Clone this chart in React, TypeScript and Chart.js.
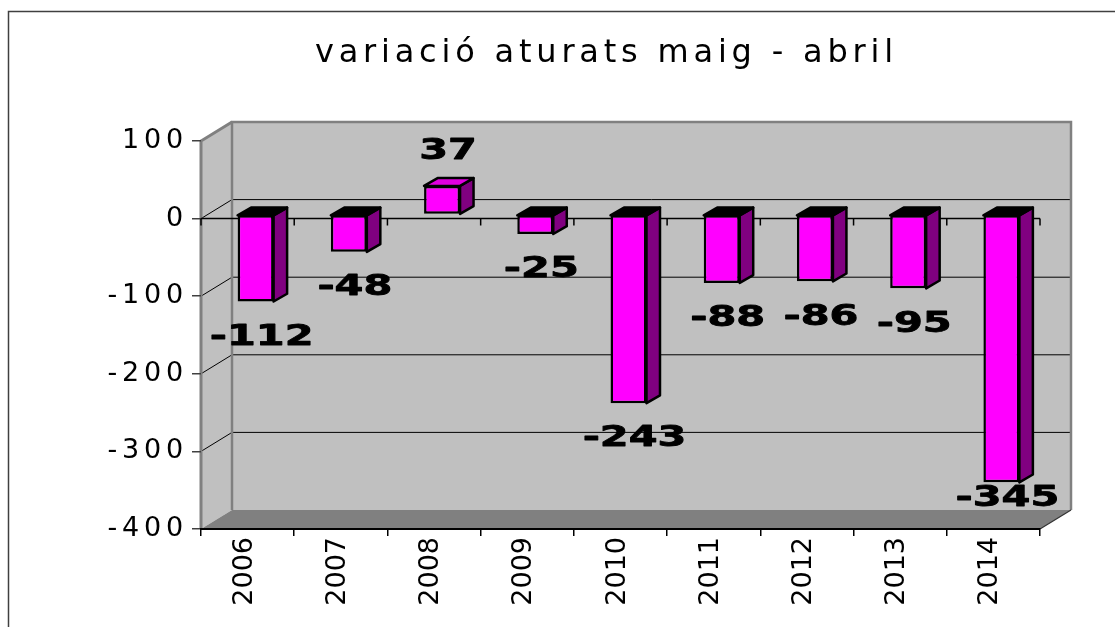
import React, { useEffect, useRef } from 'react';
import { Chart, registerables } from 'chart.js';

Chart.register(...registerables);

const TITLE = 'variació aturats maig - abril';
const YEARS = ['2006', '2007', '2008', '2009', '2010', '2011', '2012', '2013', '2014'];
const VALUES = [-112, -48, 37, -25, -243, -88, -86, -95, -345];
const Y_MIN = -400;
const Y_MAX = 100;
const Y_STEP = 100;

const FONT = 'DejaVu Sans';
const WALL_DX = 31;
const WALL_DY = 19;
const BAR_SHIFT_X = 8;
const BAR_SHIFT_Y = 4;
const BAR_DX = 13.5;
const BAR_DY = 7.8;
const LABEL_DX = 14;
const LABEL_STRETCH = 1.48;
const TITLE_CENTER_X = 606.4;

function boundary(xs: any, a: any, i: number, n: number) {
  if (i === 0) return a.left;
  if (i === n) return a.right;
  return (xs.getPixelForValue(i - 1) + xs.getPixelForValue(i)) / 2;
}

const threeD = {
  id: 'threeD',
  afterLayout(chart: any) {
    const tb = chart.titleBlock;
    if (tb) {
      const shift = TITLE_CENTER_X - (tb.left + tb.right) / 2;
      tb.left += shift;
      tb.right += shift;
    }
  },
  beforeDraw(chart: any) {
    const { ctx, chartArea: a, scales } = chart;
    const ys = scales.y;
    ctx.save();
    // outer frame
    ctx.strokeStyle = '#404040';
    ctx.lineWidth = 1.5;
    ctx.beginPath();
    ctx.moveTo(8.5, chart.height + 5);
    ctx.lineTo(8.5, 11.5);
    ctx.lineTo(chart.width + 5, 11.5);
    ctx.stroke();

    const L = a.left, R = a.right, T = a.top, B = a.bottom;
    const bl = L + WALL_DX, br = R + WALL_DX, bt = T - WALL_DY, bb = B - WALL_DY;
    // back wall
    ctx.fillStyle = '#c0c0c0';
    ctx.fillRect(bl, bt, br - bl, bb - bt);
    // side wall
    ctx.beginPath();
    ctx.moveTo(L, T); ctx.lineTo(bl, bt); ctx.lineTo(bl, bb); ctx.lineTo(L, B);
    ctx.closePath();
    ctx.fill();
    // floor
    ctx.fillStyle = '#808080';
    ctx.beginPath();
    ctx.moveTo(L, B); ctx.lineTo(bl, bb); ctx.lineTo(br, bb); ctx.lineTo(R, B);
    ctx.closePath();
    ctx.fill();
    // gridlines on walls
    ctx.strokeStyle = '#000';
    ctx.lineWidth = 1;
    for (let v = Y_MIN + Y_STEP; v < Y_MAX; v += Y_STEP) {
      const py = ys.getPixelForValue(v);
      ctx.beginPath();
      ctx.moveTo(L, py);
      ctx.lineTo(bl, py - WALL_DY);
      ctx.lineTo(br, py - WALL_DY);
      ctx.stroke();
    }
    // wall outlines
    ctx.strokeStyle = '#808080';
    ctx.lineWidth = 2.5;
    ctx.beginPath();
    ctx.moveTo(bl, bb); ctx.lineTo(bl, bt); ctx.lineTo(br, bt); ctx.lineTo(br, bb);
    ctx.stroke();
    ctx.lineWidth = 3;
    ctx.beginPath();
    ctx.moveTo(L, B); ctx.lineTo(L, T); ctx.lineTo(bl, bt);
    ctx.stroke();
    ctx.strokeStyle = '#333';
    ctx.lineWidth = 1.2;
    ctx.beginPath();
    ctx.moveTo(R, B); ctx.lineTo(br, bb);
    ctx.stroke();
    ctx.restore();
    ctx.letterSpacing = '4.8px';
  },
  beforeDatasetsDraw(chart: any) {
    const { ctx, chartArea: a, scales } = chart;
    const xs = scales.x, ys = scales.y;
    const y0 = ys.getPixelForValue(0);
    const n = YEARS.length;
    ctx.save();
    ctx.strokeStyle = '#000';
    ctx.lineWidth = 1.5;
    ctx.beginPath();
    ctx.moveTo(a.left, y0);
    ctx.lineTo(a.right, y0);
    for (let i = 0; i <= n; i++) {
      const bx = boundary(xs, a, i, n);
      ctx.moveTo(bx, y0);
      ctx.lineTo(bx, y0 + 7);
    }
    ctx.stroke();
    ctx.restore();

    ctx.save();
    ctx.translate(BAR_SHIFT_X, -BAR_SHIFT_Y);
    const meta = chart.getDatasetMeta(0);
    meta.data.forEach((bar: any, i: number) => {
      const { x, y, base, width } = bar.getProps(['x', 'y', 'base', 'width'], true);
      const left = x - width / 2, right = x + width / 2;
      const top = Math.min(y, base), bottom = Math.max(y, base);
      ctx.lineWidth = 2.5;
      ctx.strokeStyle = '#000';
      ctx.lineJoin = 'round';
      ctx.fillStyle = '#800080';
      ctx.beginPath();
      ctx.moveTo(right, top);
      ctx.lineTo(right + BAR_DX, top - BAR_DY);
      ctx.lineTo(right + BAR_DX, bottom - BAR_DY);
      ctx.lineTo(right, bottom);
      ctx.closePath();
      ctx.fill();
      ctx.stroke();
      ctx.fillStyle = VALUES[i] >= 0 ? '#e000e0' : '#000';
      ctx.beginPath();
      ctx.moveTo(left, top);
      ctx.lineTo(right, top);
      ctx.lineTo(right + BAR_DX, top - BAR_DY);
      ctx.lineTo(left + BAR_DX, top - BAR_DY);
      ctx.closePath();
      ctx.fill();
      ctx.stroke();
    });
  },
  afterDatasetsDraw(chart: any) {
    const { ctx, scales, chartArea: a } = chart;
    ctx.restore();
    const ys = scales.y;
    const meta = chart.getDatasetMeta(0);
    const floorLimit = a.bottom - WALL_DY - 11;
    ctx.save();
    ctx.letterSpacing = '0px';
    ctx.font = `bold 28px "${FONT}"`;
    ctx.fillStyle = '#000';
    ctx.strokeStyle = '#000';
    ctx.lineWidth = 0.8;
    ctx.lineJoin = 'round';
    ctx.textAlign = 'center';
    ctx.textBaseline = 'middle';
    meta.data.forEach((bar: any, i: number) => {
      const v = VALUES[i];
      const px = bar.x + LABEL_DX;
      let py = ys.getPixelForValue(v) + (v < 0 ? 32 : -38);
      if (py > floorLimit) py = floorLimit;
      ctx.save();
      ctx.translate(px, py);
      ctx.scale(LABEL_STRETCH, 1);
      ctx.fillText(String(v), 0, 0);
      ctx.strokeText(String(v), 0, 0);
      ctx.restore();
    });
    ctx.restore();
    ctx.letterSpacing = '0px';
  },
};

export default function App() {
  const ref = useRef<HTMLCanvasElement>(null);
  useEffect(() => {
    if (!ref.current) return;
    const chart = new Chart(ref.current, {
      type: 'bar',
      data: {
        labels: YEARS,
        datasets: [
          {
            data: VALUES,
            backgroundColor: '#ff00ff',
            borderColor: '#000',
            borderWidth: 2.5,
            borderSkipped: false,
            barPercentage: 0.386,
            categoryPercentage: 1,
            clip: false,
          } as any,
        ],
      },
      options: {
        animation: false,
        responsive: true,
        maintainAspectRatio: false,
        devicePixelRatio: 1,
        layout: { padding: { left: 0, right: 75, top: 0, bottom: 0 } },
        plugins: {
          legend: { display: false },
          tooltip: { enabled: false },
          title: {
            display: true,
            text: TITLE,
            color: '#000',
            font: { family: FONT, size: 32, weight: 'normal', lineHeight: 1.2 },
            padding: { top: 34, bottom: 68.6 },
          },
        },
        scales: {
          x: {
            offset: true,
            grid: {
              display: true,
              drawOnChartArea: false,
              drawTicks: true,
              tickLength: 7,
              color: '#000',
              lineWidth: 1.5,
              offset: true,
            },
            border: { display: true, color: '#000', width: 2 },
            ticks: {
              minRotation: 90,
              maxRotation: 90,
              autoSkip: false,
              padding: 1,
              labelOffset: -3,
              color: '#000',
              font: { family: FONT, size: 27 },
              z: 1,
            },
            afterFit: (s: any) => {
              s.height = 98;
            },
          },
          y: {
            min: Y_MIN,
            max: Y_MAX,
            ticks: {
              stepSize: Y_STEP,
              color: '#000',
              padding: 4,
              font: { family: FONT, size: 27 },
            },
            grid: {
              drawOnChartArea: false,
              drawTicks: true,
              tickLength: 9,
              color: '#404040',
              lineWidth: 1.5,
            },
            border: { display: false },
            afterFit: (s: any) => {
              s.width = 201;
            },
          },
        },
      } as any,
      plugins: [threeD as any],
    });
    return () => chart.destroy();
  }, []);
  return (
    <div style={{ position: 'fixed', left: 0, top: 0, width: 1115, height: 627, background: '#fff' }}>
      <canvas ref={ref} />
    </div>
  );
}
